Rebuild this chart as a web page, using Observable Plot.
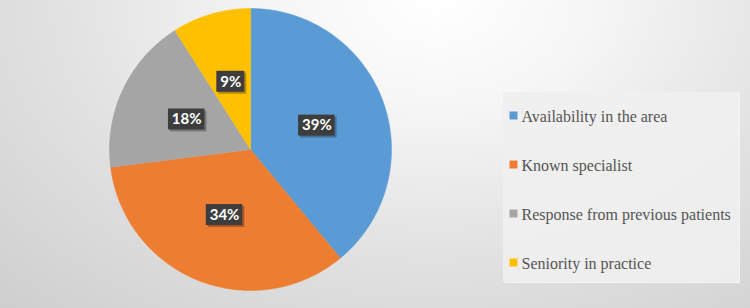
<!DOCTYPE html>
<html>
<head>
<meta charset="utf-8">
<script src="https://cdn.jsdelivr.net/npm/d3@7"></script>
<script src="https://cdn.jsdelivr.net/npm/@observablehq/plot@0.6"></script>
<style>
  html, body { margin: 0; padding: 0; }
  #chart {
    position: relative; width: 750px; height: 308px; overflow: hidden;
    background: radial-gradient(ellipse 620px 420px at 58% 0%, #ffffff 0%, #f6f6f6 25%, #e2e2e2 60%, #cfcfcf 100%);
  }
  #chart svg { position: absolute; }
  #chart svg.pie { left: 0; top: 0; }
  #chart svg.key { left: 503px; top: 92px; box-shadow: 1px 1px 0 #f4f4f4; }
</style>
</head>
<body>
<div id="chart"></div>
<script>
const categories = ["Availability in the area", "Known specialist", "Response from previous patients", "Seniority in practice"];
const values = [39, 34, 18, 9];
const labels = ["39%", "34%", "18%", "9%"];
const colors = ["#5b9bd5", "#ed7d31", "#a5a5a5", "#ffc000"];

const data = categories.map((c, i) => ({cat: c, value: values[i], label: labels[i]}));
const arcs = d3.pie().sort(null).value(d => d.value)(data);

// polygon points for each slice (unit radius), angles clockwise from top
const pts = [];
for (const a of arcs) {
  pts.push({cat: a.data.cat, x: 0, y: 0});
  const n = Math.max(2, Math.ceil((a.endAngle - a.startAngle) / (Math.PI / 180)));
  for (let k = 0; k <= n; k++) {
    const t = a.startAngle + (a.endAngle - a.startAngle) * k / n;
    pts.push({cat: a.data.cat, x: Math.sin(t), y: Math.cos(t)});
  }
}

const R = 141; // px per unit
const lab = arcs.map(a => {
  const m = (a.startAngle + a.endAngle) / 2;
  const w = (11 + 8.5 * a.data.label.length) / 2 / R;
  const h = 10.5 / R;
  const x = 0.5 * Math.sin(m), y = 0.5 * Math.cos(m);
  return {label: a.data.label, x, y, x1: x - w, x2: x + w, y1: y - h, y2: y + h};
});

const pie = Plot.plot({
  className: "pie",
  width: 750, height: 308,
  marginLeft: 109, marginRight: 359, marginTop: 8, marginBottom: 18,
  x: {domain: [-1, 1], axis: null},
  y: {domain: [-1, 1], axis: null},
  color: {domain: categories, range: colors},
  style: {background: "transparent"},
  marks: [
    Plot.line(pts, {x: "x", y: "y", z: "cat", fill: "cat", stroke: "cat", strokeWidth: 0.5, curve: "linear-closed"}),
    Plot.rect(lab, {x1: "x1", x2: "x2", y1: "y1", y2: "y2", fill: "#000", fillOpacity: 0.28, dx: 2, dy: 2}),
    Plot.rect(lab, {x1: "x1", x2: "x2", y1: "y1", y2: "y2", fill: "#3d3d3d"}),
    Plot.text(lab, {x: "x", y: "y", text: "label", fill: "white", fontWeight: "bold", fontSize: 15, fontFamily: "Lato, 'Open Sans', sans-serif"})
  ]
});

const key = Plot.plot({
  className: "key",
  width: 236, height: 190,
  marginLeft: 0, marginRight: 0, marginTop: 23, marginBottom: 20,
  x: {axis: null},
  y: {type: "point", domain: categories, padding: 0, axis: null},
  color: {domain: categories, range: colors},
  style: {background: "rgba(240,240,240,0.9)"},
  marks: [
    Plot.dot(categories, {y: d => d, frameAnchor: "left", dx: 10, symbol: "square", r: 4.5, fill: d => d, stroke: null}),
    Plot.text(categories, {y: d => d, text: d => d, frameAnchor: "left", textAnchor: "start", dx: 18, dy: 1,
      fontSize: 16, fontFamily: "Liberation Serif", fill: "#555555"})
  ]
});

const host = document.getElementById("chart");
host.appendChild(pie);
host.appendChild(key);
</script>
</body>
</html>
